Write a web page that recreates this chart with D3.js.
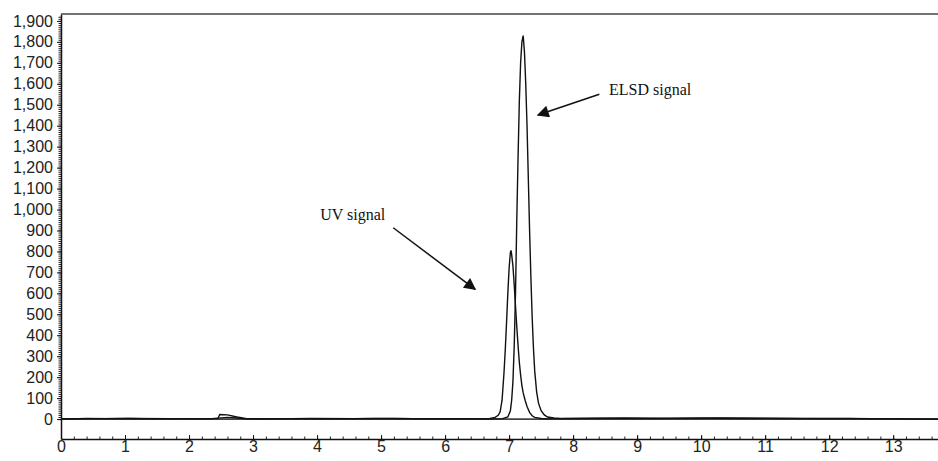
<!DOCTYPE html>
<html>
<head>
<meta charset="utf-8">
<script src="https://cdn.jsdelivr.net/npm/d3@7"></script>
<style>
  body { margin: 0; background: #fff; }
  svg { display: block; }
  .tick text { font-family: "Liberation Sans", Arial, sans-serif; font-size: 16px; fill: #222; }
  .note { font-family: "Liberation Serif", "Times New Roman", serif; font-size: 16px; fill: #111; }
</style>
</head>
<body>
<svg id="drawing_region" width="938" height="461"></svg>
<script>
// retention time (min) and detector response
const uvTime = [0, 0.4, 0.7, 1.05, 1.5, 2.0, 2.45, 2.48, 2.6, 2.75, 2.9, 3.3, 3.9, 4.6, 5.2, 5.8, 6.3,
    6.6, 6.7, 6.78, 6.83, 6.86, 6.89, 6.92, 6.94, 6.96, 6.98, 7.0, 7.02, 7.03, 7.04, 7.06, 7.08, 7.1,
    7.12, 7.14, 7.16, 7.18, 7.2, 7.22, 7.25, 7.28, 7.32, 7.36, 7.4, 7.5, 7.6, 7.8, 8.4, 9.2, 10.1,
    10.9, 11.6, 12.3, 13.0, 13.7];
const uvValue = [0, 3, 2, 3, 1, 2, 2, 22, 20, 10, 2, 1, 3, 2, 3, 1, 2,
    1, 3, 8, 18, 35, 90, 220, 330, 460, 600, 720, 795, 805, 785, 730, 640, 540,
    440, 350, 270, 210, 160, 125, 90, 60, 32, 16, 8, 3, 1, 2, 3, 2, 4,
    3, 2, 3, 1, 0];

const elsdTime = [0, 0.5, 1.1, 1.7, 2.3, 2.5, 2.6, 2.75, 2.9, 3.5, 4.2, 4.9, 5.5, 6.2, 6.7, 6.9, 6.98,
    7.02, 7.04, 7.06, 7.08, 7.1, 7.12, 7.14, 7.16, 7.18, 7.2, 7.22, 7.23, 7.24, 7.26, 7.28, 7.3, 7.32,
    7.34, 7.36, 7.38, 7.4, 7.43, 7.46, 7.5, 7.55, 7.6, 7.7, 7.8, 8.3, 8.8, 9.5, 10.3, 11.0, 11.8,
    12.5, 13.2, 13.7];
const elsdValue = [1, 2, 3, 2, 1, 6, 8, 5, 1, 2, 1, 3, 2, 1, 1, 2, 10,
    40, 90, 180, 350, 600, 950, 1250, 1520, 1700, 1800, 1830, 1790, 1750, 1600, 1400, 1150, 900,
    680, 490, 340, 230, 130, 75, 40, 20, 10, 5, 3, 4, 5, 4, 5, 4, 3,
    2, 1, 0];

const xTicks = d3.range(0, 14);
const yTicks = d3.range(0, 2000, 100);

// annotation text and arrow ends in data units
const notes = [
    { label: "ELSD signal", tx: 8.56, ty: 1547, x1: 8.41, y1: 1550, x2: 7.45, y2: 1451 },
    { label: "UV signal", tx: 4.05, ty: 950, x1: 5.19, y1: 913, x2: 6.47, y2: 619 }
];

const svg = d3.select('#drawing_region');
const margin = { top: 14, right: 0, bottom: 22, left: 61 };
const width = 938 - margin.left - margin.right;
const height = 461 - margin.top - margin.bottom;

const x = d3.scaleLinear().domain([0, 13.7]).range([0, width]);
const y = d3.scaleLinear().domain([-95, 1933]).range([height, 0]);

const g = svg.append('g').attr('transform', `translate(${margin.left},${margin.top})`);

// zero reference line
g.append('line')
    .attr('x1', 0).attr('x2', width)
    .attr('y1', y(0)).attr('y2', y(0))
    .attr('stroke', '#444').attr('stroke-width', 1.8);

const line = d3.line().x(d => x(d[0])).y(d => y(d[1]));

g.append('path')
    .datum(d3.zip(uvTime, uvValue))
    .attr('fill', 'none').attr('stroke', '#111').attr('stroke-width', 1.4)
    .attr('d', line);

g.append('path')
    .datum(d3.zip(elsdTime, elsdValue))
    .attr('fill', 'none').attr('stroke', '#111').attr('stroke-width', 1.4)
    .attr('d', line);

// minor ticks
g.append('g')
    .attr('transform', `translate(0,${height})`)
    .call(d3.axisBottom(x).tickValues(d3.range(0, 69).map(i => i * 0.2)).tickSize(-2.5).tickFormat(''))
    .call(a => a.select('.domain').remove())
    .call(a => a.selectAll('line').attr('stroke', '#222'));

g.append('g')
    .call(d3.axisLeft(y).tickValues(d3.range(0, 1930, 10)).tickSize(2.5).tickFormat(''))
    .call(a => a.select('.domain').remove())
    .call(a => a.selectAll('line').attr('stroke', '#222'));

// major axes
g.append('g')
    .attr('transform', `translate(0,${height})`)
    .call(d3.axisBottom(x).tickValues(xTicks).tickSize(-4).tickSizeOuter(0).tickPadding(2).tickFormat(d3.format('d')))
    .call(a => a.select('.domain').attr('stroke', '#111').attr('stroke-width', 1.5))
    .call(a => a.selectAll('line').attr('stroke', '#111'));

g.append('g')
    .call(d3.axisLeft(y).tickValues(yTicks).tickSize(4).tickSizeOuter(0).tickPadding(4).tickFormat(d3.format(',')))
    .call(a => a.select('.domain').attr('stroke', '#111').attr('stroke-width', 1.5))
    .call(a => a.selectAll('line').attr('stroke', '#111'));

// top frame
g.append('line')
    .attr('x1', 0).attr('x2', width)
    .attr('y1', 0).attr('y2', 0)
    .attr('stroke', '#444').attr('stroke-width', 1.5);

// annotations
svg.append('defs').append('marker')
    .attr('id', 'head')
    .attr('viewBox', '0 0 10 10')
    .attr('refX', 9).attr('refY', 5)
    .attr('markerWidth', 15).attr('markerHeight', 12)
    .attr('markerUnits', 'userSpaceOnUse')
    .attr('orient', 'auto')
    .append('path').attr('d', 'M0,0 L10,5 L0,10 Z').attr('fill', '#111');

g.selectAll('.note')
    .data(notes)
    .join('text')
    .attr('class', 'note')
    .attr('x', d => x(d.tx))
    .attr('y', d => y(d.ty))
    .text(d => d.label);

g.selectAll('.arrow')
    .data(notes)
    .join('line')
    .attr('class', 'arrow')
    .attr('x1', d => x(d.x1)).attr('y1', d => y(d.y1))
    .attr('x2', d => x(d.x2)).attr('y2', d => y(d.y2))
    .attr('stroke', '#111').attr('stroke-width', 1.5)
    .attr('marker-end', 'url(#head)');
</script>
</body>
</html>
